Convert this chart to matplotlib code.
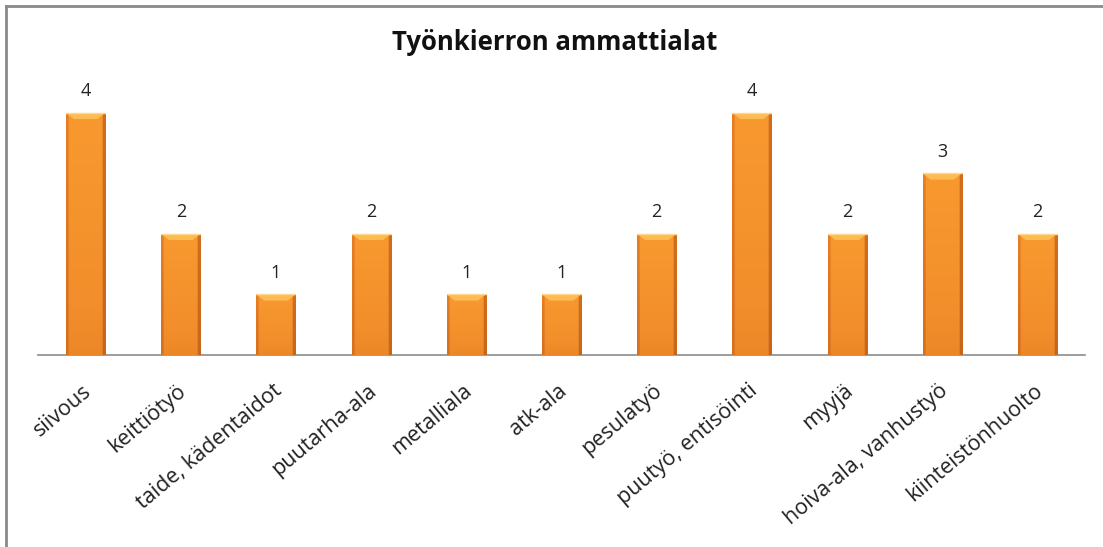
import numpy as np
import matplotlib
matplotlib.use("Agg")
import matplotlib.pyplot as plt
from matplotlib.colors import LinearSegmentedColormap
from matplotlib.transforms import ScaledTranslation

plt.rcParams['font.family'] = ['Open Sans', 'DejaVu Sans']

categories = ["siivous", "keittiötyö", "taide, kädentaidot", "puutarha-ala",
              "metalliala", "atk-ala", "pesulatyö", "puutyö, entisöinti",
              "myyjä", "hoiva-ala, vanhustyö", "kiinteistönhuolto"]
counts = [4, 2, 1, 2, 1, 1, 2, 4, 2, 3, 2]

W, H = 1103, 547
fig = plt.figure(figsize=(W / 100, H / 100), dpi=100)
ax = fig.add_axes([38 / W, (H - 355) / H, 1047 / W, (355 - 77) / H])

x = np.arange(len(categories))
bars = ax.bar(x, counts, width=0.41, color="#F08C2A", zorder=2)

# bevelled orange look: gradient clipped to each bar
cmap = LinearSegmentedColormap.from_list("bev", ["#8E4A12", "#C8681C", "#DE7620", "#F28E2B", "#F8992F"])
for b in bars:
    bx, bw, bh = b.get_x(), b.get_width(), b.get_height()
    hx = np.linspace(0, 1, 60)
    prof = np.ones_like(hx)
    prof[hx < 0.06] = 0.6
    prof[hx > 0.92] = 0.35
    vy = np.linspace(0, 1, 100)[:, None]
    img = prof[None, :] * (0.68 + 0.32 * vy)
    im = ax.imshow(img, extent=(bx, bx + bw, 0, bh), origin="lower",
                   cmap=cmap, vmin=0, vmax=1, aspect="auto", zorder=3)
    im.set_clip_path(b)
    # light top bevel
    cap = 0.1
    ax.fill([bx, bx + bw, bx + bw * 0.8, bx + bw * 0.2],
            [bh, bh, bh - cap, bh - cap], color="#FFC25A", alpha=0.85, zorder=4, lw=0)
    ax.plot([bx, bx + bw], [bh, bh], color="#FFD98A", lw=1, zorder=5)
    ax.annotate(str(b.get_height()), (bx + bw / 2, bh), xytext=(0, 9),
                textcoords="offset points", ha="center", va="bottom",
                fontsize=13, color="#222222")

ax.set_xlim(-0.5, len(categories) - 0.5)
ax.set_ylim(0, 4.595)
ax.set_yticks([])
for s in ["top", "right", "left"]:
    ax.spines[s].set_visible(False)
ax.spines["bottom"].set_color("#8C8C8C")
ax.spines["bottom"].set_linewidth(1.2)

ax.set_xticks(x)
ax.set_xticklabels(categories, fontsize=15.5, color="#222222")
ax.tick_params(axis="x", length=0, pad=24)
plt.setp(ax.get_xticklabels(), rotation=40, ha="right", va="center", rotation_mode="anchor")
off = ScaledTranslation(3 / 100, 0, fig.dpi_scale_trans)
for lbl in ax.get_xticklabels():
    lbl.set_transform(lbl.get_transform() + off)

fig.text(555 / W, 1 - 42 / H, "Työnkierron ammattialat", ha="center", va="center",
         fontsize=18.5, fontweight="bold", color="#111111")

# chart frame (top and left edges visible)
fig.add_artist(plt.Line2D([6 / W, 1], [1 - 6 / H, 1 - 6 / H], transform=fig.transFigure,
                          color="#8A8A8A", lw=2))
fig.add_artist(plt.Line2D([6 / W, 6 / W], [0, 1 - 6 / H], transform=fig.transFigure,
                          color="#8A8A8A", lw=2))

fig.savefig("out.png", dpi=100)
